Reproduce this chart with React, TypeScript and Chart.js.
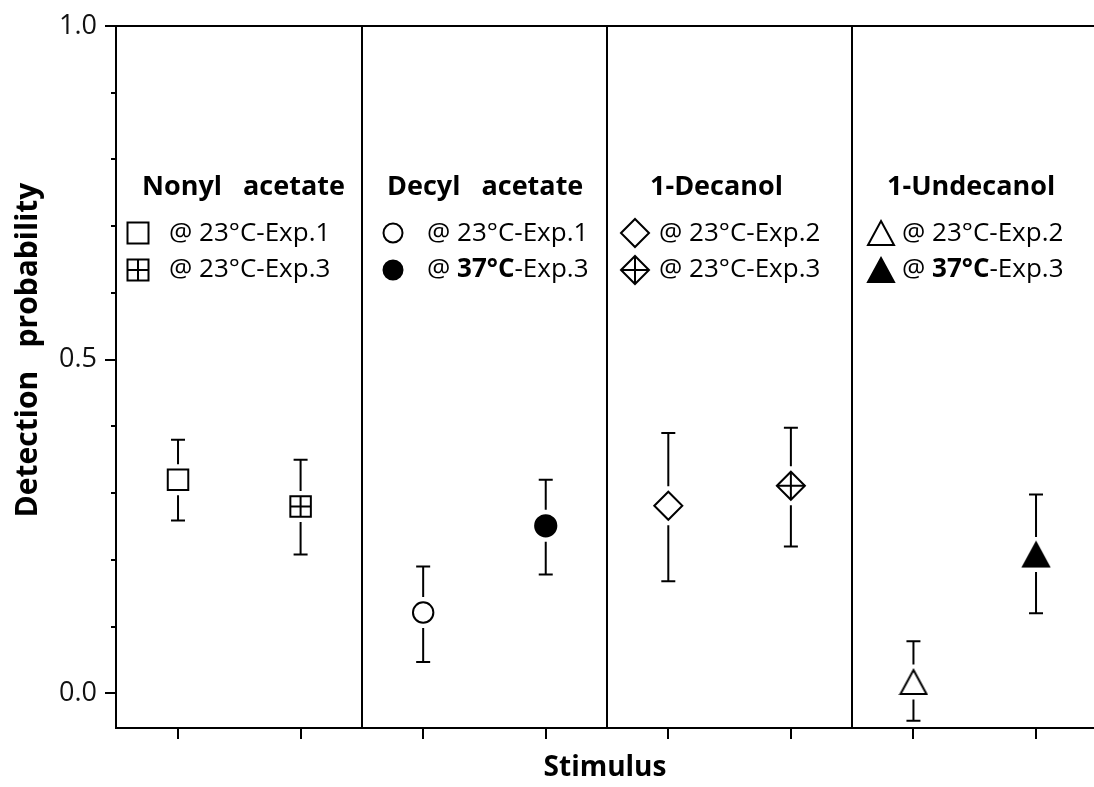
import React, { useEffect, useRef } from 'react';
import { Chart, registerables } from 'chart.js';

Chart.register(...registerables);

// ---------- data ----------
const stimuli = ['Nonyl acetate', 'Decyl acetate', '1-Decanol', '1-Undecanol'];
const conditions = [
  '@ 23°C-Exp.1', '@ 23°C-Exp.3',
  '@ 23°C-Exp.1', '@ 37°C-Exp.3',
  '@ 23°C-Exp.2', '@ 23°C-Exp.3',
  '@ 23°C-Exp.2', '@ 37°C-Exp.3',
];
const positions = [1, 2, 3, 4, 5, 6, 7, 8];
const detection = [0.320, 0.280, 0.121, 0.251, 0.281, 0.311, 0.017, 0.208];
const errLow = [0.259, 0.208, 0.047, 0.178, 0.168, 0.220, -0.041, 0.120];
const errHigh = [0.380, 0.350, 0.190, 0.320, 0.390, 0.398, 0.078, 0.298];
const panelBounds = [2.5, 4.5, 6.5];
const yMajorTicks = [0, 0.5, 1.0];
const yTickLabels = ['0.0', '0.5', '1.0'];
const yMinorTicks = [0.1, 0.2, 0.3, 0.4, 0.6, 0.7, 0.8, 0.9];
const crossedPoints = [1, 5];

// ---------- styles ----------
const FONT = '"Open Sans", "Noto Sans", sans-serif';
const shapes = ['rect', 'rect', 'circle', 'circle', 'rectRot', 'rectRot', 'triangle', 'triangle'];
const fills = ['#fff', '#fff', '#fff', '#000', '#fff', '#fff', '#fff', '#000'];
const radii = [14.5, 14.5, 10.2, 10.6, 14, 14, 13, 13];
const halfHeights = [11, 11, 11, 11.5, 15, 15, 13, 13];
const crossRadii = [10.25, 14];

const legendLayout = [
  { titleX: 142, markerX: 138, textX: 169 },
  { titleX: 387, markerX: 393, textX: 427 },
  { titleX: 650, markerX: 635, textX: 659 },
  { titleX: 887, markerX: 881, textX: 902 },
];
const TITLE_BASE = 195;
const ROW_Y = [233, 270];
const ROW_BASE = [241, 277];

function makeTriangle(fill: string): HTMLCanvasElement {
  const c = document.createElement('canvas');
  c.width = 30;
  c.height = 30;
  const g = c.getContext('2d')!;
  g.lineWidth = 2;
  g.lineJoin = 'miter';
  g.strokeStyle = '#000';
  g.fillStyle = fill;
  g.beginPath();
  g.moveTo(15, 3);
  g.lineTo(28, 27);
  g.lineTo(2, 27);
  g.closePath();
  g.fill();
  g.stroke();
  return c;
}

export default function App() {
  const ref = useRef<HTMLCanvasElement | null>(null);

  useEffect(() => {
    const canvas = ref.current;
    if (!canvas) return;
    const triOpen = makeTriangle('#fff');
    const triFilled = makeTriangle('#000');

    const pointStyles: any[] = shapes.map((s, i) =>
      s === 'triangle' ? (fills[i] === '#000' ? triFilled : triOpen) : s
    );

    const drawLegendShape = (ctx: CanvasRenderingContext2D, i: number, x: number, y: number) => {
      ctx.save();
      ctx.lineWidth = 2;
      ctx.strokeStyle = '#000';
      ctx.fillStyle = fills[i];
      const kind = shapes[i];
      if (kind === 'triangle') {
        const img = fills[i] === '#000' ? triFilled : triOpen;
        ctx.drawImage(img, x - 15, y - 15);
        ctx.restore();
        return;
      }
      ctx.beginPath();
      let cr = 0;
      if (kind === 'rect') {
        const s = 10.5;
        ctx.rect(x - s, y - s, 2 * s, 2 * s);
        cr = s;
      } else if (kind === 'circle') {
        ctx.arc(x, y, 9.5, 0, Math.PI * 2);
      } else if (kind === 'rectRot') {
        const r = 14;
        ctx.moveTo(x - r, y);
        ctx.lineTo(x, y - r);
        ctx.lineTo(x + r, y);
        ctx.lineTo(x, y + r);
        ctx.closePath();
        cr = r;
      }
      ctx.fill();
      ctx.stroke();
      if (crossedPoints.includes(i)) {
        ctx.beginPath();
        ctx.moveTo(x - cr, y);
        ctx.lineTo(x + cr, y);
        ctx.moveTo(x, y - cr);
        ctx.lineTo(x, y + cr);
        ctx.stroke();
      }
      ctx.restore();
    };

    const errorBars = {
      id: 'errorBars',
      afterDatasetsDraw(chart: any) {
        const { ctx, scales } = chart;
        const xs = scales.x;
        const ys = scales.y;
        ctx.save();
        ctx.strokeStyle = '#000';
        ctx.lineWidth = 2;
        const gap = 4.5;
        const cap = 7;
        positions.forEach((p, i) => {
          const px = xs.getPixelForValue(p);
          const py = ys.getPixelForValue(detection[i]);
          const top = ys.getPixelForValue(errHigh[i]);
          const bot = ys.getPixelForValue(errLow[i]);
          const hh = halfHeights[i];
          ctx.beginPath();
          ctx.moveTo(px, top);
          ctx.lineTo(px, py - hh - gap);
          ctx.moveTo(px, py + hh + gap);
          ctx.lineTo(px, bot);
          ctx.moveTo(px - cap, top);
          ctx.lineTo(px + cap, top);
          ctx.moveTo(px - cap, bot);
          ctx.lineTo(px + cap, bot);
          ctx.stroke();
        });
        ctx.restore();
      },
    };

    const panelText = {
      id: 'panelText',
      afterDraw(chart: any) {
        const ctx: CanvasRenderingContext2D = chart.ctx;
        ctx.save();
        ctx.fillStyle = '#000';
        ctx.textBaseline = 'alphabetic';
        ctx.textAlign = 'left';
        stimuli.forEach((name, p) => {
          const L = legendLayout[p];
          ctx.font = `bold 27px ${FONT}`;
          ctx.fillText(name.split(' ').join('   '), L.titleX, TITLE_BASE);
          for (let r = 0; r < 2; r++) {
            const idx = p * 2 + r;
            drawLegendShape(ctx, idx, L.markerX, ROW_Y[r]);
            const parts = conditions[idx].split(/(37°C)/).filter((s) => s.length);
            let x = L.textX;
            parts.forEach((part) => {
              ctx.font = part === '37°C' ? `bold 26px ${FONT}` : `26px ${FONT}`;
              ctx.fillText(part, x, ROW_BASE[r]);
              x += ctx.measureText(part).width;
            });
          }
        });
        // y axis title
        ctx.save();
        ctx.translate(28, 350);
        ctx.rotate(-Math.PI / 2);
        ctx.textAlign = 'center';
        ctx.textBaseline = 'middle';
        ctx.font = `bold 30px ${FONT}`;
        ctx.fillText('Detection   probability', 0, 0);
        ctx.restore();
        ctx.restore();
      },
    };

    const xMin = 0.494;
    const xMax = 8.473;
    const yMin = -0.052;
    const yMax = 1.0;

    const chart = new Chart(canvas, {
      type: 'scatter',
      data: {
        datasets: [
          {
            data: positions.map((x, i) => ({ x, y: detection[i] })),
            xAxisID: 'x',
            yAxisID: 'y',
            order: 1,
            pointStyle: pointStyles,
            pointRadius: radii,
            pointHoverRadius: radii,
            pointBackgroundColor: fills,
            pointBorderColor: '#000',
            pointBorderWidth: 2,
            pointHoverBorderWidth: 2,
            showLine: false,
          } as any,
          {
            data: crossedPoints.map((i) => ({ x: positions[i], y: detection[i] })),
            xAxisID: 'x',
            yAxisID: 'y',
            order: 0,
            pointStyle: 'cross',
            pointRadius: crossRadii,
            pointHoverRadius: crossRadii,
            pointBorderColor: '#000',
            pointBorderWidth: 2,
            showLine: false,
          } as any,
        ],
      },
      options: {
        animation: false,
        responsive: false,
        events: [],
        layout: { autoPadding: false, padding: { top: 26, left: 0, right: 0, bottom: 0 } },
        plugins: {
          legend: { display: false },
          tooltip: { enabled: false },
        },
        scales: {
          x: {
            type: 'linear',
            position: 'bottom',
            min: xMin,
            max: xMax,
            afterBuildTicks: (s: any) => {
              s.ticks = positions.map((v) => ({ value: v }));
            },
            afterFit: (s: any) => {
              s.height = 59;
            },
            grid: { drawOnChartArea: false, drawTicks: true, tickLength: 11, color: '#000', lineWidth: 2 },
            border: { display: true, color: '#000', width: 2 },
            ticks: { display: false },
            title: {
              display: true,
              text: 'Stimulus',
              color: '#000',
              font: { family: FONT, size: 28, weight: 'bold' },
              padding: { top: 0, bottom: 2 },
            },
          },
          xDiv: {
            type: 'linear',
            position: 'top',
            min: xMin,
            max: xMax,
            afterBuildTicks: (s: any) => {
              s.ticks = panelBounds.map((v) => ({ value: v }));
            },
            afterFit: (s: any) => {
              s.height = 0;
            },
            grid: { drawOnChartArea: true, drawTicks: false, color: '#000', lineWidth: 2 },
            border: { display: true, color: '#000', width: 2 },
            ticks: { display: false },
          },
          y: {
            type: 'linear',
            position: 'left',
            weight: 1,
            min: yMin,
            max: yMax,
            afterBuildTicks: (s: any) => {
              s.ticks = yMajorTicks.map((v) => ({ value: v }));
            },
            afterFit: (s: any) => {
              s.width = 116;
            },
            grid: { drawOnChartArea: false, drawTicks: true, tickLength: 11, color: '#000', lineWidth: 2 },
            border: { display: true, color: '#000', width: 2 },
            ticks: {
              padding: 8,
              color: '#111',
              font: { family: FONT, size: 27 },
              callback: (v: any) => {
                const k = yMajorTicks.findIndex((t) => Math.abs(t - Number(v)) < 1e-9);
                return k >= 0 ? yTickLabels[k] : '';
              },
            },
          },
          yMinor: {
            type: 'linear',
            position: 'left',
            weight: 0,
            min: yMin,
            max: yMax,
            afterBuildTicks: (s: any) => {
              s.ticks = yMinorTicks.map((v) => ({ value: v }));
            },
            afterFit: (s: any) => {
              s.width = 0;
            },
            grid: { drawOnChartArea: false, drawTicks: true, tickLength: 5, color: '#000', lineWidth: 2 },
            border: { display: false },
            ticks: { display: false },
          },
        } as any,
      },
      plugins: [errorBars, panelText],
    });

    return () => {
      chart.destroy();
    };
  }, []);

  return (
    <div style={{ position: 'absolute', left: 0, top: 0, width: 1094, height: 787, background: '#fff' }}>
      <canvas ref={ref} width={1094} height={787} style={{ display: 'block', width: 1094, height: 787 }} />
    </div>
  );
}
